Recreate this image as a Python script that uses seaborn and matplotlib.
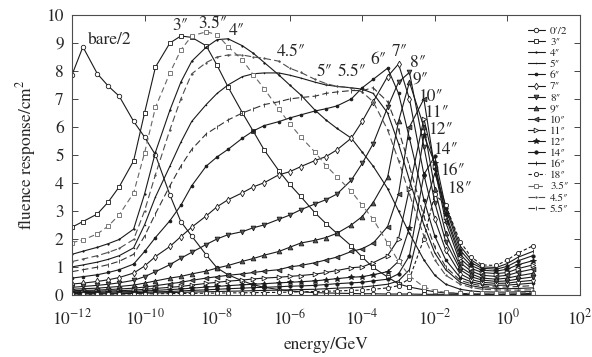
import numpy as np
import pandas as pd
import seaborn as sns
import matplotlib
matplotlib.use("Agg")
import matplotlib.pyplot as plt
from matplotlib.ticker import FixedLocator, NullLocator

# energy grid (GeV), 1-2-5 per decade
energy = [1e-12, 2e-12, 5e-12, 1e-11, 2e-11, 5e-11, 1e-10, 2e-10, 5e-10,
          1e-9, 2e-9, 5e-9, 1e-8, 2e-8, 5e-8, 1e-7, 2e-7, 5e-7,
          1e-6, 2e-6, 5e-6, 1e-5, 2e-5, 5e-5, 1e-4, 2e-4, 5e-4,
          1e-3, 2e-3, 5e-3, 1e-2, 2e-2, 5e-2, 1e-1, 2e-1, 5e-1,
          1e0, 2e0, 5e0]

bare = [7.86, 8.86, 7.9, 7.46, 7.1, 6.2, 5.64, 5.0, 3.57, 2.62, 2.1, 1.43, 0.96,
        0.72, 0.5, 0.36, 0.27, 0.19, 0.14, 0.11, 0.08, 0.07, 0.06, 0.05, 0.04,
        0.04, 0.03, 0.03, 0.03, 0.02, 0.02, 0.02, 0.02, 0.01, 0.01, 0.01, 0.01,
        0.01, 0.01]
s3 = [2.42, 2.62, 2.89, 3.32, 3.86, 4.79, 6.5, 8.14, 9.0, 9.25, 9.2, 8.9, 8.2,
      7.43, 6.5, 5.84, 5.17, 4.44, 3.95, 3.52, 2.93, 2.55, 2.2, 1.75,
      1.35, 0.98, 0.64, 0.39, 0.28, 0.18, 0.11, 0.07, 0.05, 0.04, 0.03, 0.03,
      0.03, 0.04, 0.05]
s35 = [1.87, 1.96, 2.18, 2.46, 2.86, 3.64, 5.07, 6.7, 7.93, 8.75, 9.25, 9.4, 9.3,
       8.87, 8.39, 7.86, 7.36, 6.64, 6.12, 5.65, 5.1, 4.62, 4.22, 3.7,
       3.2, 2.7, 1.85, 1.2, 0.68, 0.28, 0.15, 0.09, 0.06, 0.05, 0.05, 0.05,
       0.06, 0.07, 0.08]
s4 = [1.45, 1.56, 1.7, 1.83, 1.98, 2.35, 3.6, 5.1, 6.6, 7.6, 8.35, 8.85, 9.12,
      9.15, 8.9, 8.63, 8.3, 7.86, 7.5, 7.15, 6.6, 6.25, 5.95, 5.6,
      5.1, 4.6, 3.8, 3.0, 2.2, 1.25, 0.7, 0.38, 0.2, 0.14, 0.11, 0.1,
      0.1, 0.11, 0.12]
s45 = [1.19, 1.28, 1.4, 1.52, 1.66, 1.98, 3.0, 4.3, 5.9, 7.0, 7.9, 8.3, 8.5,
       8.57, 8.57, 8.5, 8.45, 8.35, 8.1, 7.95, 7.7, 7.55, 7.45, 7.4,
       7.25, 6.9, 5.9, 4.8, 3.6, 2.1, 1.25, 0.7, 0.38, 0.27, 0.2, 0.18,
       0.17, 0.17, 0.18]
s5 = [1.0, 1.07, 1.17, 1.27, 1.4, 1.68, 2.5, 3.5, 4.6, 5.45, 6.2, 6.8, 7.2,
      7.5, 7.8, 7.9, 7.93, 7.93, 7.85, 7.75, 7.6, 7.5, 7.45, 7.4,
      7.35, 7.2, 6.5, 5.4, 4.1, 2.5, 1.5, 0.9, 0.45, 0.33, 0.26, 0.23,
      0.22, 0.23, 0.25]
s55 = [0.83, 0.9, 0.99, 1.08, 1.2, 1.45, 2.1, 2.9, 3.9, 4.6, 5.2, 5.75, 6.0,
       6.25, 6.5, 6.65, 6.8, 6.9, 7.0, 7.05, 7.1, 7.2, 7.25, 7.3,
       7.3, 7.4, 6.9, 5.9, 4.6, 2.8, 1.7, 1.0, 0.52, 0.4, 0.32, 0.28,
       0.28, 0.3, 0.33]
s6 = [0.6, 0.65, 0.72, 0.8, 0.9, 1.1, 1.55, 2.05, 2.65, 3.2, 3.9, 4.6, 4.93,
      5.2, 5.6, 5.86, 6.05, 6.19, 6.32, 6.43, 6.57, 6.65, 6.75, 7.0,
      7.4, 7.7, 8.1, 7.2, 5.6, 3.4, 2.1, 1.25, 0.62, 0.47, 0.38, 0.34,
      0.35, 0.38, 0.42]
s7 = [0.39, 0.42, 0.48, 0.54, 0.62, 0.78, 1.03, 1.37, 1.73, 2.08, 2.42, 2.82, 3.15,
      3.4, 3.65, 3.86, 4.01, 4.29, 4.4, 4.58, 4.8, 4.94, 5.18, 5.6,
      6.2, 6.9, 7.8, 8.25, 7.0, 4.3, 2.7, 1.6, 0.75, 0.55, 0.45, 0.41,
      0.42, 0.47, 0.52]
s8 = [0.27, 0.3, 0.34, 0.38, 0.43, 0.52, 0.65, 0.83, 1.08, 1.31, 1.52, 1.8, 2.0,
      2.15, 2.26, 2.4, 2.5, 2.7, 2.85, 3.04, 3.25, 3.4, 3.6, 4.1,
      4.7, 5.4, 6.7, 7.6, 7.95, 5.3, 3.3, 1.9, 0.9, 0.65, 0.53, 0.48,
      0.5, 0.57, 0.64]
s9 = [0.2, 0.22, 0.24, 0.27, 0.3, 0.35, 0.42, 0.5, 0.6, 0.66, 0.75, 0.85, 0.96,
      1.05, 1.2, 1.3, 1.42, 1.55, 1.7, 1.85, 1.95, 2.05, 2.2, 2.5,
      2.8, 3.3, 4.2, 6.2, 7.6, 6.0, 3.8, 2.2, 1.0, 0.75, 0.6, 0.56,
      0.6, 0.68, 0.77]
s10 = [0.15, 0.16, 0.17, 0.19, 0.21, 0.24, 0.28, 0.33, 0.4, 0.45, 0.52, 0.6, 0.65,
       0.7, 0.75, 0.8, 0.85, 0.9, 1.0, 1.05, 1.15, 1.25, 1.35, 1.55,
       1.65, 1.85, 2.44, 3.6, 6.0, 7.0, 4.5, 2.6, 1.15, 0.85, 0.7, 0.66,
       0.7, 0.81, 0.92]
s11 = [0.11, 0.12, 0.13, 0.14, 0.15, 0.17, 0.2, 0.23, 0.27, 0.3, 0.35, 0.41, 0.45,
       0.49, 0.53, 0.57, 0.6, 0.63, 0.66, 0.69, 0.74, 0.8, 0.87, 0.97,
       1.0, 1.15, 1.4, 2.0, 3.8, 6.3, 4.6, 2.8, 1.3, 0.95, 0.8, 0.76,
       0.8, 0.94, 1.07]
s12 = [0.08, 0.085, 0.09, 0.1, 0.11, 0.12, 0.14, 0.16, 0.19, 0.21, 0.24, 0.28, 0.3,
       0.33, 0.36, 0.38, 0.4, 0.43, 0.45, 0.47, 0.5, 0.54, 0.58, 0.63,
       0.65, 0.72, 0.83, 1.2, 2.4, 5.7, 4.7, 2.9, 1.45, 1.05, 0.88, 0.85,
       0.92, 1.08, 1.22]
s14 = [0.05, 0.055, 0.06, 0.065, 0.07, 0.08, 0.09, 0.11, 0.12, 0.14, 0.16, 0.18, 0.2,
       0.22, 0.24, 0.26, 0.27, 0.29, 0.31, 0.32, 0.34, 0.37, 0.4, 0.43,
       0.45, 0.5, 0.56, 0.75, 1.4, 4.3, 4.95, 3.1, 1.6, 1.15, 0.95, 0.92,
       1.02, 1.22, 1.4]
s16 = [0.03, 0.033, 0.036, 0.04, 0.044, 0.05, 0.06, 0.07, 0.08, 0.09, 0.1, 0.11, 0.12,
       0.13, 0.14, 0.15, 0.16, 0.17, 0.18, 0.19, 0.2, 0.22, 0.24, 0.26,
       0.28, 0.32, 0.38, 0.5, 0.9, 3.0, 4.35, 3.2, 1.75, 1.25, 1.0, 0.98,
       1.12, 1.35, 1.55]
s18 = [0.02, 0.022, 0.024, 0.026, 0.028, 0.03, 0.035, 0.04, 0.045, 0.05, 0.055, 0.06, 0.065,
       0.07, 0.075, 0.08, 0.085, 0.09, 0.1, 0.11, 0.12, 0.13, 0.14, 0.16,
       0.17, 0.2, 0.25, 0.33, 0.58, 2.0, 3.6, 3.2, 1.9, 1.36, 1.07, 1.05,
       1.25, 1.5, 1.75]

labels = ["0\u2032/2", "3\u2033", "4\u2033", "5\u2033", "6\u2033", "7\u2033",
          "8\u2033", "9\u2033", "10\u2033", "11\u2033", "12\u2033", "14\u2033",
          "16\u2033", "18\u2033", "3.5\u2033", "4.5\u2033", "5.5\u2033"]
series = [bare, s3, s4, s5, s6, s7, s8, s9, s10, s11, s12, s14, s16, s18,
          s35, s45, s55]

# (marker, size, face, linestyle, colour)
styles = [("o", 3.2, "white", "-", "k"),
          ("s", 3.2, "white", "-", "k"),
          (".", 2.0, "k", "-", "k"),
          (".", 1.0, "k", "-", "k"),
          (".", 4.0, "k", "-", "k"),
          ("d", 3.4, "white", "-", "k"),
          ("v", 3.4, "0.35", "-", "k"),
          ("^", 3.4, "0.35", "-", "k"),
          ("<", 3.4, "0.35", "-", "k"),
          (">", 3.4, "white", "-", "k"),
          ("*", 4.0, "k", "-", "k"),
          ("o", 2.4, "k", "-", "k"),
          ("|", 3.0, "k", "-", "k"),
          ("o", 3.0, "white", (0, (3, 2)), "k"),
          ("s", 3.0, "white", (0, (5, 3)), "0.4"),
          (".", 2.0, "0.4", (0, (6, 3)), "0.3"),
          ("|", 2.6, "0.3", (0, (6, 3)), "0.2")]

# curve labels placed in the plot (x in GeV, y)
tags = [("bare/2", 2.76e-12, 9.1), ("3\u2033", 5.7e-10, 9.6),
        ("3.5\u2033", 2.96e-9, 9.68), ("4\u2033", 2.1e-8, 9.43),
        ("4.5\u2033", 4.4e-7, 8.68), ("5\u2033", 5.6e-6, 7.96),
        ("5.5\u2033", 2.1e-5, 7.96), ("6\u2033", 1.7e-4, 8.4),
        ("7\u2033", 6.5e-4, 8.68), ("8\u2033", 2.05e-3, 8.29),
        ("9\u2033", 2.5e-3, 7.68), ("10\u2033", 3.4e-3, 7.07),
        ("11\u2033", 4.98e-3, 6.5), ("12\u2033", 6.4e-3, 5.89),
        ("14\u2033", 8.8e-3, 5.18), ("16\u2033", 1.37e-2, 4.43),
        ("18\u2033", 2.14e-2, 3.79)]

df = pd.DataFrame({"energy": energy})
for lab, vals in zip(labels, series):
    df[lab] = vals

sns.set_theme(style="ticks")
plt.rcParams["font.family"] = ["STIXGeneral", "DejaVu Serif"]
plt.rcParams["mathtext.fontset"] = "stix"

fig = plt.figure(figsize=(5.92, 3.57), dpi=100)
ax = fig.add_axes([0.1216, 0.174, 0.858, 0.784])

for lab, (mk, ms, fc, ls, col) in zip(labels, styles):
    sns.lineplot(data=df, x="energy", y=lab, ax=ax, color=col, linewidth=0.8,
                 linestyle=ls, marker=mk, markersize=ms,
                 markerfacecolor=fc, markeredgecolor=col,
                 markeredgewidth=0.6, label=lab, errorbar=None)

for txt, x, y in tags:
    ax.text(x, y, txt, fontsize=12.5, ha="left", va="center")

ax.set_xscale("log")
ax.set_xlim(1e-12, 1e2)
ax.set_ylim(0, 10)
ax.xaxis.set_major_locator(FixedLocator([10.0**k for k in range(-12, 3, 2)]))
ax.xaxis.set_minor_locator(NullLocator())
ax.set_xticklabels([r"$10^{%d}$" % k for k in range(-12, 3, 2)])
ax.set_yticks(range(0, 11))
ax.tick_params(direction="in", top=True, right=True, length=4, width=0.6,
               labelsize=12.5)
ax.tick_params(axis="x", pad=10)
ax.tick_params(axis="y", pad=6)
for sp in ax.spines.values():
    sp.set_linewidth(0.8)
    sp.set_color("0.3")

ax.set_xlabel("energy/GeV", fontsize=12.5, labelpad=6)
ax.set_ylabel("fluence response/cm$^2$", fontsize=12.5, labelpad=6)

ax.legend(loc="upper right", frameon=False, fontsize=8, handlelength=1.5,
          handletextpad=0.5, labelspacing=0.12, borderaxespad=0.6)

fig.savefig("out.png", dpi=100)
